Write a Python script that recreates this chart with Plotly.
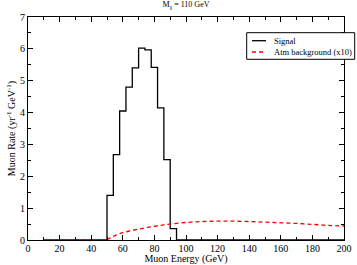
import plotly.graph_objects as go

bin_edges = [50, 54, 58, 62, 66, 70, 74, 78, 82, 86, 90, 94]
signal = [1.40, 2.68, 4.05, 4.80, 5.40, 6.02, 5.97, 5.42, 4.15, 2.52, 0.36]

bg_energy = [10, 20, 30, 40, 50, 55, 60, 65, 70, 75, 80, 85, 90, 100, 110, 120, 130, 140, 150, 160, 170, 180, 190, 200]
bg_rate = [0, 0, 0, 0, 0.02, 0.14, 0.23, 0.29, 0.34, 0.39, 0.43, 0.47, 0.50, 0.55, 0.58, 0.59, 0.59, 0.58, 0.56, 0.54, 0.52, 0.49, 0.46, 0.44]

legend_labels = ["Signal", "Atm background (x10)"]

# step trace from bins
sx = [10] + bin_edges + [200]
sy = [0] + signal + [0, 0]

font = "Liberation Serif, Times New Roman, serif"
W, H = 357, 265
L, R, T, B = 28, 13, 17, 25
pw, ph = W - L - R, H - T - B

def px(xp):
    return (xp - L) / pw

def py(yp):
    return (H - B - yp) / ph

fig = go.Figure()
fig.add_trace(go.Scatter(x=sx, y=sy, mode="lines", line=dict(color="black", width=1.3, shape="hv"), name=legend_labels[0]))
fig.add_trace(go.Scatter(x=bg_energy, y=bg_rate, mode="lines", line=dict(color="red", width=1.3, dash="4px,3px", shape="spline"), name=legend_labels[1]))

axis_common = dict(showline=True, linecolor="black", linewidth=1, mirror="ticks", ticks="inside",
                   tickcolor="black", ticklen=5, showgrid=False, zeroline=False, automargin=False,
                   tickfont=dict(family=font, size=10, color="black"))
fig.update_xaxes(range=[0, 200], dtick=20, minor=dict(ticks="inside", dtick=10, ticklen=3, tickcolor="black"),
                 title=dict(text="Muon Energy (GeV)", font=dict(family=font, size=10, color="black"), standoff=0),
                 ticklabelstandoff=-1,
                 **axis_common)
fig.update_yaxes(range=[0, 7], dtick=1, minor=dict(ticks="inside", dtick=0.5, ticklen=3, tickcolor="black"),
                 title=dict(text="Muon Rate (yr<sup>-1</sup> GeV<sup>-1</sup>)", font=dict(family=font, size=10, color="black"), standoff=2),
                 **axis_common)

# manual legend box
shapes = [
    dict(type="rect", xref="paper", yref="paper", x0=px(246.7), x1=px(354.7), y0=py(59.3), y1=py(32.7),
         line=dict(color="black", width=1), fillcolor="white", layer="above"),
    dict(type="line", xref="paper", yref="paper", x0=px(252), x1=px(266), y0=py(40.7), y1=py(40.7),
         line=dict(color="black", width=1.3), layer="above"),
    dict(type="line", xref="paper", yref="paper", x0=px(252), x1=px(266), y0=py(52), y1=py(52),
         line=dict(color="red", width=1.3, dash="4px,3px"), layer="above"),
]
annotations = [
    dict(text=legend_labels[0], xref="paper", yref="paper", x=px(271.5), y=py(40.7), xanchor="left", yanchor="middle",
         showarrow=False, font=dict(family=font, size=8.5, color="black")),
    dict(text=legend_labels[1], xref="paper", yref="paper", x=px(271.5), y=py(52), xanchor="left", yanchor="middle",
         showarrow=False, font=dict(family=font, size=8.5, color="black")),
]

fig.update_layout(
    width=W, height=H,
    margin=dict(l=L, r=R, t=T, b=B),
    paper_bgcolor="white", plot_bgcolor="white",
    title=dict(text="M<sub>χ</sub> = 110 GeV", x=0.5, xref="paper", xanchor="center", y=0.995, yanchor="top",
               font=dict(family=font, size=8, color="black")),
    showlegend=False,
    shapes=shapes,
    annotations=annotations,
)
fig.write_html("out.html", config={"displayModeBar": False},
               post_script="document.body.style.margin='0';document.body.style.padding='0';")
